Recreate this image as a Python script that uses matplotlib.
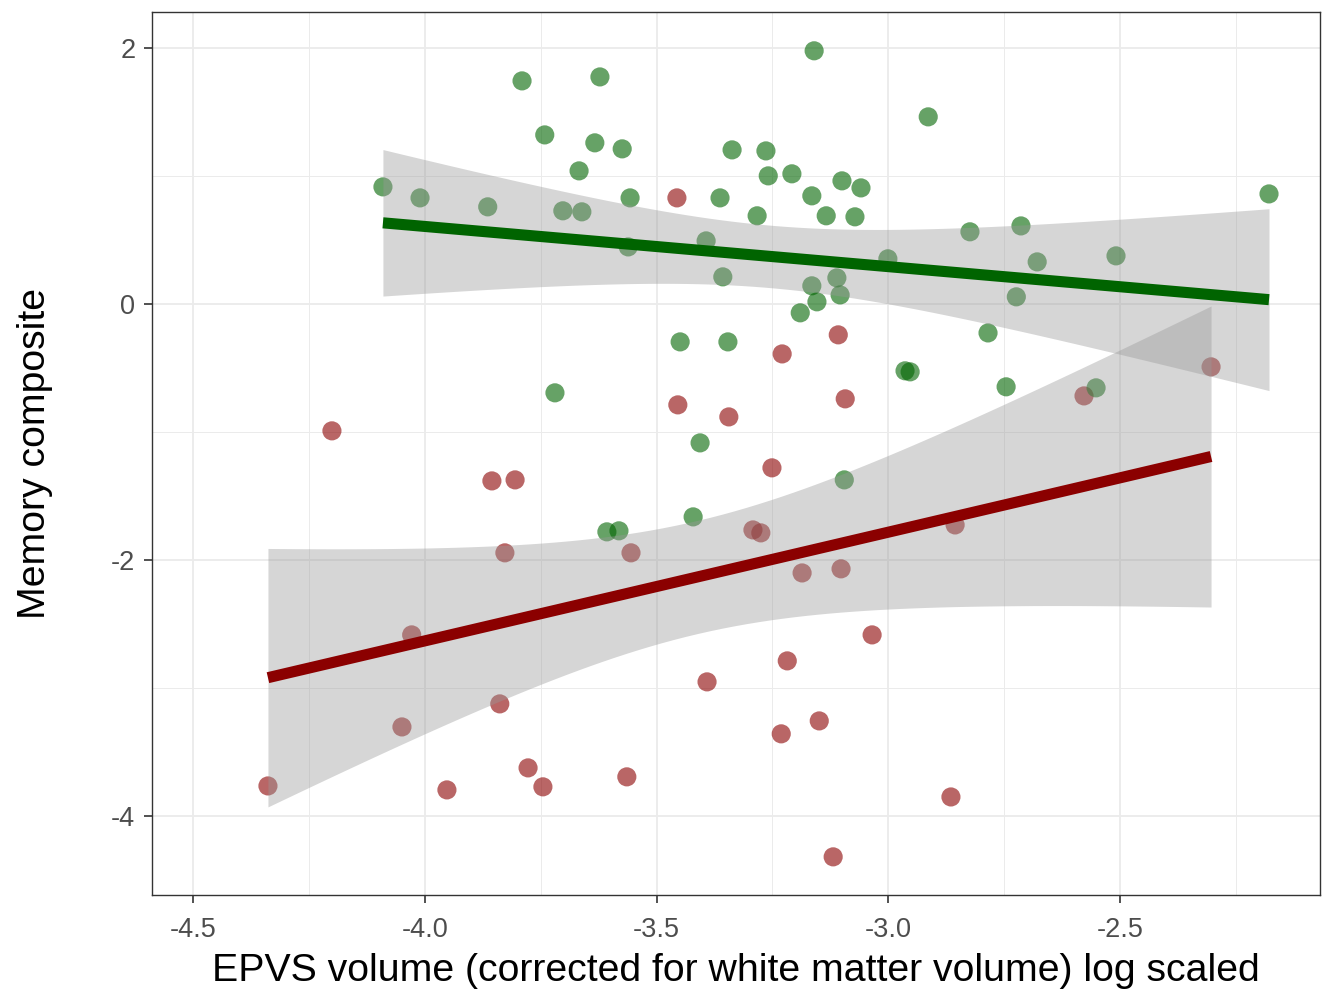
"""Memory composite vs EPVS volume, two groups with linear fits and 95% bands."""
import numpy as np
import matplotlib
matplotlib.use('Agg')
import matplotlib.pyplot as plt
from matplotlib.ticker import MultipleLocator, FormatStrFormatter

plt.rcParams['font.family'] = ['Liberation Sans', 'DejaVu Sans']

# green group
green_x = [-4.090, -4.010, -3.864, -3.790, -3.741, -3.667, -3.702, -3.661, -3.622, -3.633,
           -3.574, -3.557, -3.561, -3.719, -3.363, -3.337, -3.264, -3.259, -3.208, -3.160,
           -3.165, -3.100, -3.059, -3.283, -3.134, -3.072, -2.914, -3.393, -3.001, -3.357,
           -3.165, -3.111, -3.104, -3.154, -3.190, -3.449, -3.346, -2.964, -2.953, -3.406,
           -3.607, -3.581, -3.421, -3.095, -2.179, -2.824, -2.714, -2.679, -2.509, -2.724,
           -2.785, -2.746, -2.552]
green_y = [0.914, 0.828, 0.758, 1.742, 1.320, 1.039, 0.727, 0.719, 1.773, 1.258,
           1.211, 0.828, 0.445, -0.695, 0.828, 1.203, 1.195, 1.000, 1.016, 1.977,
           0.844, 0.961, 0.906, 0.688, 0.688, 0.680, 1.461, 0.492, 0.352, 0.211,
           0.141, 0.203, 0.070, 0.016, -0.070, -0.297, -0.297, -0.523, -0.531, -1.086,
           -1.781, -1.773, -1.664, -1.375, 0.859, 0.563, 0.609, 0.328, 0.375, 0.055,
           -0.227, -0.648, -0.656]

# red group
red_x = [-3.456, -3.108, -3.229, -3.454, -3.344, -3.093, -2.578, -2.304, -4.200, -3.855,
         -3.805, -3.827, -4.028, -4.338, -4.049, -3.838, -3.952, -3.777, -3.745, -3.251,
         -3.292, -3.275, -3.555, -3.186, -3.102, -3.035, -3.218, -3.391, -3.149, -3.231,
         -3.564, -3.119, -2.856, -2.865]
red_y = [0.828, -0.242, -0.391, -0.789, -0.883, -0.742, -0.719, -0.492, -0.992, -1.383,
         -1.375, -1.945, -2.586, -3.766, -3.305, -3.125, -3.797, -3.625, -3.773, -1.281,
         -1.766, -1.789, -1.945, -2.102, -2.070, -2.586, -2.789, -2.953, -3.258, -3.359,
         -3.695, -4.320, -1.727, -3.852]

T95 = {51: 2.008, 32: 2.037}  # t quantiles for the band


def fit_band(x, y):
    x = np.asarray(x)
    y = np.asarray(y)
    n = len(x)
    b, a = np.polyfit(x, y, 1)
    resid = y - (a + b * x)
    s = np.sqrt(np.sum(resid ** 2) / (n - 2))
    sxx = np.sum((x - x.mean()) ** 2)
    xs = np.linspace(x.min(), x.max(), 80)
    ys = a + b * xs
    se = s * np.sqrt(1.0 / n + (xs - x.mean()) ** 2 / sxx)
    t = T95.get(n - 2, 2.0)
    return xs, ys, ys - t * se, ys + t * se


fig = plt.figure(figsize=(13.22, 9.91), dpi=100)
ax = fig.add_axes([0.115, 0.097, 0.8835, 0.891])

for gx, gy, pc in [(red_x, red_y, '#8B0000'), (green_x, green_y, '#006400')]:
    ax.scatter(gx, gy, s=190, color=pc, alpha=0.6, edgecolors='none', zorder=3)

for gx, gy, lc in [(green_x, green_y, '#006400'), (red_x, red_y, '#8B0000')]:
    xs, ys, lo, hi = fit_band(gx, gy)
    ax.fill_between(xs, lo, hi, color='#999999', alpha=0.4, linewidth=0, zorder=4)
    ax.plot(xs, ys, color=lc, linewidth=8, solid_capstyle='butt', zorder=5)

ax.set_xlim(-4.588, -2.069)
ax.set_ylim(-4.617, 2.281)
ax.xaxis.set_major_locator(MultipleLocator(0.5))
ax.xaxis.set_minor_locator(MultipleLocator(0.25))
ax.yaxis.set_major_locator(MultipleLocator(2))
ax.yaxis.set_minor_locator(MultipleLocator(1))
ax.xaxis.set_major_formatter(FormatStrFormatter('%.1f'))
ax.yaxis.set_major_formatter(FormatStrFormatter('%d'))

ax.grid(which='major', color='#EBEBEB', linewidth=1.3, zorder=0)
ax.grid(which='minor', color='#EBEBEB', linewidth=0.7, zorder=0)
ax.set_axisbelow(True)
for sp in ax.spines.values():
    sp.set_color('#333333')
    sp.set_linewidth(1.0)
ax.tick_params(which='major', length=6, width=1.2, color='#333333',
               labelsize=19.5, labelcolor='#4D4D4D')
ax.tick_params(axis='y', pad=6)
ax.tick_params(axis='x', pad=10)
ax.tick_params(which='minor', length=0)

ax.set_xlabel('EPVS volume (corrected for white matter volume) log scaled',
              fontsize=28.3, color='black')
ax.set_ylabel('Memory composite', fontsize=28.3, color='black')
ax.xaxis.set_label_coords(0.5, -0.066)
ax.yaxis.set_label_coords(-0.085, 0.5)

fig.savefig('out.png', dpi=100)
